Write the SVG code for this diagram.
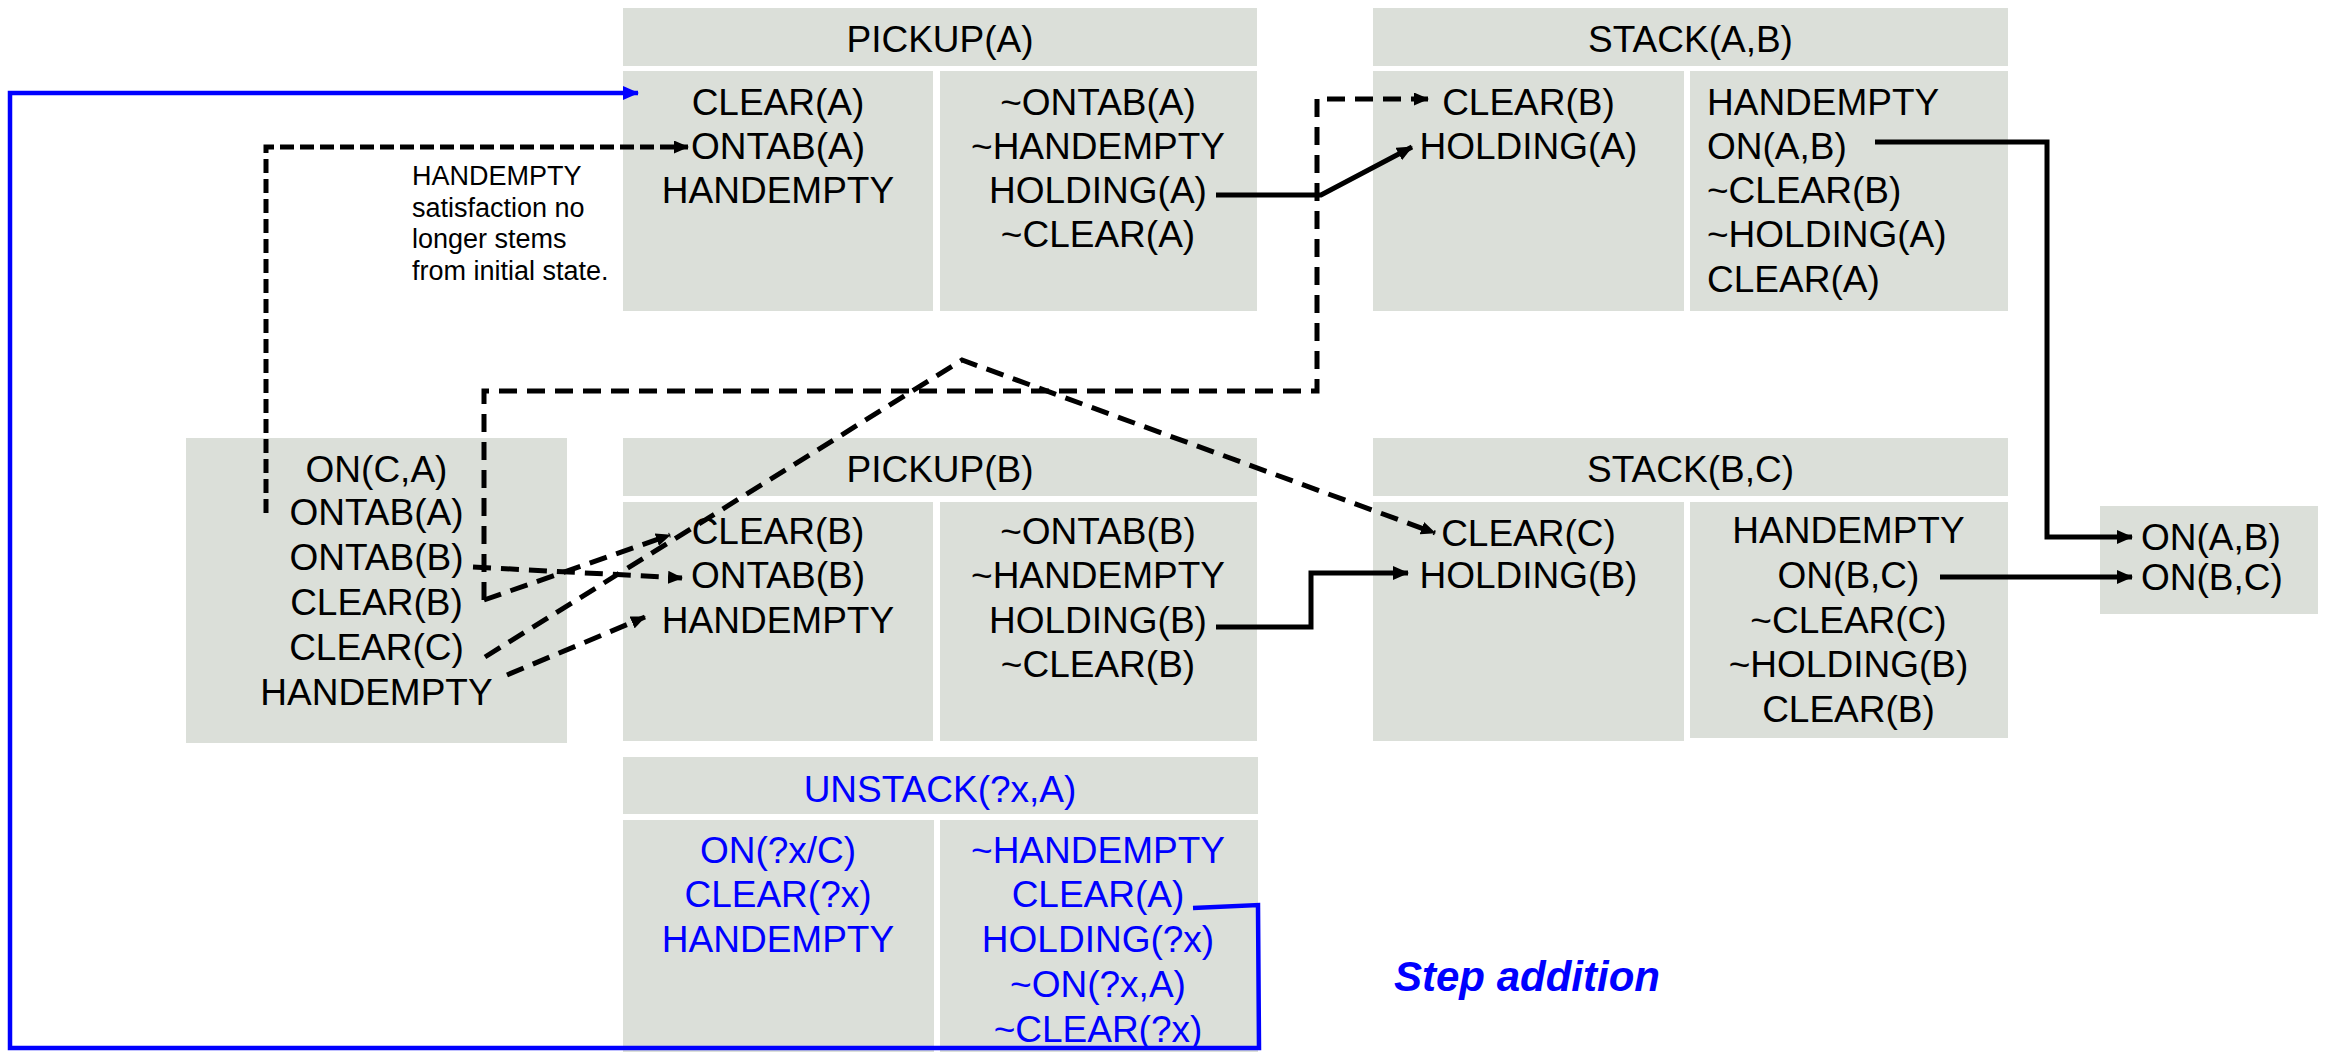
<svg xmlns="http://www.w3.org/2000/svg" width="2331" height="1052" viewBox="0 0 2331 1052">
<defs>
<marker id="ah" markerUnits="userSpaceOnUse" viewBox="0 0 16 14" markerWidth="16" markerHeight="14" refX="15" refY="7" orient="auto"><path d="M0,0 L16,7 L0,14 z" fill="#000"/></marker>
<marker id="ahs" markerUnits="userSpaceOnUse" viewBox="0 0 15 13" markerWidth="15" markerHeight="13" refX="14" refY="6.5" orient="auto"><path d="M0,0 L15,6.5 L0,13 z" fill="#000"/></marker>
<marker id="ahb" markerUnits="userSpaceOnUse" viewBox="0 0 16 14" markerWidth="16" markerHeight="14" refX="15" refY="7" orient="auto"><path d="M0,0 L16,7 L0,14 z" fill="#0000FF"/></marker>
</defs>
<style>
.box{fill:#DBDFD9}
.t{font-family:"Liberation Sans",Arial,Helvetica,sans-serif;font-size:37px;fill:#000}
.c{text-anchor:middle}
.b{fill:#0000FF}
.note{font-family:"Liberation Sans",Arial,Helvetica,sans-serif;font-size:27px;fill:#000}
.solid{fill:none;stroke:#000;stroke-width:5}
.dash{fill:none;stroke:#000;stroke-width:5;stroke-dasharray:18 10}
.dash2{fill:none;stroke:#000;stroke-width:5;stroke-dasharray:14 6}
.bl{fill:none;stroke:#0000FF;stroke-width:4.5}
.step{font-family:"Liberation Sans",Arial,Helvetica,sans-serif;font-size:42px;font-weight:bold;font-style:italic;fill:#0000FF}
</style>
<rect width="2331" height="1052" fill="#fff"/>

<g id="pickupA">
<rect class="box" x="623" y="8" width="634" height="58"/>
<rect class="box" x="623" y="71" width="310" height="240"/>
<rect class="box" x="940" y="71" width="317" height="240"/>
<text class="t c" x="940" y="52">PICKUP(A)</text>
<text class="t c" x="778" y="115">CLEAR(A)</text>
<text class="t c" x="778" y="159">ONTAB(A)</text>
<text class="t c" x="778" y="203">HANDEMPTY</text>
<text class="t c" x="1098" y="115">~ONTAB(A)</text>
<text class="t c" x="1098" y="159">~HANDEMPTY</text>
<text class="t c" x="1098" y="203">HOLDING(A)</text>
<text class="t c" x="1098" y="247">~CLEAR(A)</text>
</g>

<g id="stackAB">
<rect class="box" x="1373" y="8" width="635" height="58"/>
<rect class="box" x="1373" y="71" width="311" height="240"/>
<rect class="box" x="1690" y="71" width="318" height="240"/>
<text class="t c" x="1690.5" y="52">STACK(A,B)</text>
<text class="t c" x="1528.5" y="115">CLEAR(B)</text>
<text class="t c" x="1528.5" y="159">HOLDING(A)</text>
<text class="t" x="1707" y="115">HANDEMPTY</text>
<text class="t" x="1707" y="159">ON(A,B)</text>
<text class="t" x="1707" y="203">~CLEAR(B)</text>
<text class="t" x="1707" y="247">~HOLDING(A)</text>
<text class="t" x="1707" y="292">CLEAR(A)</text>
</g>

<g id="initial">
<rect class="box" x="186" y="438" width="381" height="305"/>
<text class="t c" x="376.5" y="482">ON(C,A)</text>
<text class="t c" x="376.5" y="525">ONTAB(A)</text>
<text class="t c" x="376.5" y="570">ONTAB(B)</text>
<text class="t c" x="376.5" y="615">CLEAR(B)</text>
<text class="t c" x="376.5" y="660">CLEAR(C)</text>
<text class="t c" x="376.5" y="705">HANDEMPTY</text>
</g>

<g id="pickupB">
<rect class="box" x="623" y="438" width="634" height="58"/>
<rect class="box" x="623" y="502" width="310" height="239"/>
<rect class="box" x="940" y="502" width="317" height="239"/>
<text class="t c" x="940" y="482">PICKUP(B)</text>
<text class="t c" x="778" y="544">CLEAR(B)</text>
<text class="t c" x="778" y="588">ONTAB(B)</text>
<text class="t c" x="778" y="633">HANDEMPTY</text>
<text class="t c" x="1098" y="544">~ONTAB(B)</text>
<text class="t c" x="1098" y="588">~HANDEMPTY</text>
<text class="t c" x="1098" y="633">HOLDING(B)</text>
<text class="t c" x="1098" y="677">~CLEAR(B)</text>
</g>

<g id="stackBC">
<rect class="box" x="1373" y="438" width="635" height="58"/>
<rect class="box" x="1373" y="502" width="311" height="239"/>
<rect class="box" x="1690" y="502" width="318" height="236"/>
<text class="t c" x="1690.5" y="482">STACK(B,C)</text>
<text class="t c" x="1528.5" y="546">CLEAR(C)</text>
<text class="t c" x="1528.5" y="588">HOLDING(B)</text>
<text class="t c" x="1848.5" y="543">HANDEMPTY</text>
<text class="t c" x="1848.5" y="588">ON(B,C)</text>
<text class="t c" x="1848.5" y="633">~CLEAR(C)</text>
<text class="t c" x="1848.5" y="677">~HOLDING(B)</text>
<text class="t c" x="1848.5" y="722">CLEAR(B)</text>
</g>

<g id="goal">
<rect class="box" x="2100" y="506" width="218" height="108"/>
<text class="t" x="2141" y="550">ON(A,B)</text>
<text class="t" x="2141" y="590">ON(B,C)</text>
</g>

<g id="unstack">
<rect class="box" x="623" y="757" width="635" height="57"/>
<rect class="box" x="623" y="820" width="311" height="232"/>
<rect class="box" x="940" y="820" width="318" height="232"/>
<text class="t c b" x="940" y="802">UNSTACK(?x,A)</text>
<text class="t c b" x="778" y="863">ON(?x/C)</text>
<text class="t c b" x="778" y="907">CLEAR(?x)</text>
<text class="t c b" x="778" y="952">HANDEMPTY</text>
<text class="t c b" x="1098" y="863">~HANDEMPTY</text>
<text class="t c b" x="1098" y="907">CLEAR(A)</text>
<text class="t c b" x="1098" y="952">HOLDING(?x)</text>
<text class="t c b" x="1098" y="997">~ON(?x,A)</text>
<text class="t c b" x="1098" y="1042">~CLEAR(?x)</text>
</g>

<g id="note">
<text class="note" x="412" y="185">HANDEMPTY</text>
<text class="note" x="412" y="217">satisfaction no</text>
<text class="note" x="412" y="248">longer stems</text>
<text class="note" x="412" y="280">from initial state.</text>
</g>

<g id="caption">
<text class="step" x="1394" y="991">Step addition</text>
</g>

<g id="connectors">
<path class="dash2" d="M266,513 V147 H688" marker-end="url(#ahs)"/>
<path class="dash" d="M484,600 V391 H1317 V99 H1428" marker-end="url(#ahs)"/>
<path class="dash" d="M484,600 L670,535" marker-end="url(#ahs)"/>
<path class="dash" d="M473,567 L682,578" marker-end="url(#ahs)"/>
<path class="dash" d="M485,657 L962,360 L1435,533" marker-end="url(#ahs)"/>
<path class="dash" d="M507,675 L645,617" marker-end="url(#ahs)"/>
<path class="solid" d="M1216,195 H1321 L1412,147" marker-end="url(#ah)"/>
<path class="solid" d="M1216,627 H1311 V573 H1408" marker-end="url(#ah)"/>
<path class="solid" d="M1875,142 H2047 V537 H2132" marker-end="url(#ah)"/>
<path class="solid" d="M1940,577 H2132" marker-end="url(#ah)"/>
<path class="bl" d="M1193,908 L1258,905 L1259,1048 H10 V93 H638" marker-end="url(#ahb)"/>
</g>
</svg>
